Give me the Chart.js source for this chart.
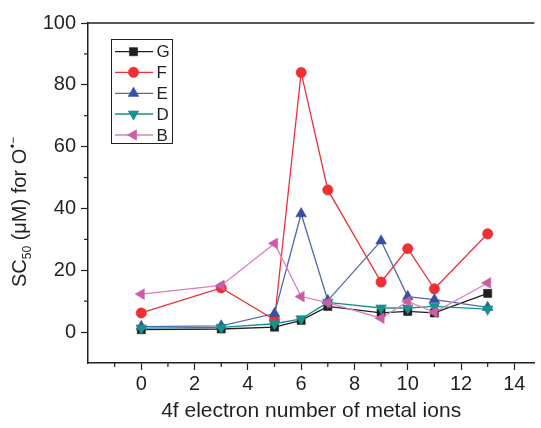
<!DOCTYPE html>
<html>
<head>
<meta charset="utf-8">
<script src="https://cdn.jsdelivr.net/npm/chart.js@4/dist/chart.umd.min.js"></script>
<style>
html,body{margin:0;padding:0;background:#fff;}
#wrap{width:541px;height:428px;}
</style>
</head>
<body>
<div id="wrap"><canvas id="c" width="541" height="428"></canvas></div>
<script>
// ---- data ----
const electrons = [0, 3, 5, 6, 7, 9, 10, 11, 13];
const seriesG = [0.8, 1.0, 1.6, 3.8, 8.3, 6.2, 6.7, 6.2, 12.5];
const seriesF = [6.2, 14.3, 4.0, 84.0, 46.0, 16.2, 27.0, 14.0, 31.8];
const seriesE = [1.8, 2.0, 6.0, 38.3, 10.2, 29.5, 11.5, 10.5, 8.0];
const seriesD = [1.3, 1.5, 2.7, 4.3, 9.6, 7.8, 7.8, 8.3, 7.4];
const seriesB = [12.3, 15.1, 28.7, 11.5, 9.5, 4.5, 9.9, 6.4, 15.9];
const seriesNames = ['G', 'F', 'E', 'D', 'B'];
const xTickValues = [0, 2, 4, 6, 8, 10, 12, 14];
const yTickValues = [0, 20, 40, 60, 80, 100];
const xTitle = '4f electron number of metal ions';

const AXIS = '#231f20';
const FONT = "'Liberation Sans', Arial, Helvetica, sans-serif";

function pts(vals){ return electrons.map((x,i)=>({x:x, y:vals[i]})); }

const styles = [
  {data: seriesG, line:'#231f20', fill:'#231f20', style:'rect', r:5.8, rot:0, order:5},
  {data: seriesF, line:'#ee3035', fill:'#ee3035', style:'circle', r:5.2, rot:0, order:4},
  {data: seriesE, line:'#5367b3', fill:'#3a4f9f', style:'triangle', r:6.2, rot:0, order:3},
  {data: seriesD, line:'#14928c', fill:'#14928c', style:'triangle', r:6.2, rot:180, order:2},
  {data: seriesB, line:'#dc7fbc', fill:'#cc5ca4', style:'triangle', r:6.2, rot:-90, order:1}
];

const datasets = styles.map((s,i)=>({
  label: seriesNames[i],
  data: pts(s.data),
  borderColor: s.line,
  backgroundColor: s.fill,
  borderWidth: 1.3,
  pointStyle: s.style,
  pointRadius: s.r,
  pointRotation: s.rot,
  pointBackgroundColor: s.fill,
  pointBorderColor: s.fill,
  pointBorderWidth: 0.5,
  order: s.order,
  tension: 0
}));

function drawMarker(ctx, style, r, rot, x, y, fill){
  ctx.save();
  ctx.fillStyle = fill; ctx.strokeStyle = fill; ctx.lineWidth = 0.5;
  if (Chart.helpers && Chart.helpers.drawPoint) {
    Chart.helpers.drawPoint(ctx, {pointStyle: style, radius: r, rotation: rot, borderWidth: 0.5}, x, y);
  } else {
    ctx.beginPath(); ctx.arc(x,y,r,0,Math.PI*2); ctx.fill();
  }
  ctx.restore();
}

const decor = {
  id: 'decor',
  afterDraw(chart){
    const ctx = chart.ctx;
    const ca = chart.chartArea;
    const xs = chart.scales.x, ys = chart.scales.y;
    ctx.save();
    ctx.strokeStyle = AXIS; ctx.lineWidth = 1.5;
    // top border
    ctx.beginPath(); ctx.moveTo(ca.left, ca.top); ctx.lineTo(ca.right, ca.top); ctx.stroke();
    // minor ticks
    ctx.lineWidth = 1.2;
    for (let v = -1; v <= 14; v += 2) {
      const px = xs.getPixelForValue(v);
      ctx.beginPath(); ctx.moveTo(px, ca.bottom); ctx.lineTo(px, ca.bottom + 4); ctx.stroke();
    }
    for (let v = 10; v <= 90; v += 20) {
      const py = ys.getPixelForValue(v);
      ctx.beginPath(); ctx.moveTo(ca.left, py); ctx.lineTo(ca.left - 4, py); ctx.stroke();
    }
    // y title (with subscript / superscript)
    ctx.translate(26, 287);
    ctx.rotate(-Math.PI/2);
    ctx.fillStyle = AXIS;
    ctx.textBaseline = 'alphabetic';
    ctx.textAlign = 'left';
    let cx = 0;
    const big = "20px " + FONT, small = "12px " + FONT;
    ctx.font = big; ctx.fillText('SC', cx, 0); cx += ctx.measureText('SC').width;
    ctx.font = small; ctx.fillText('50', cx, 5); cx += ctx.measureText('50').width;
    ctx.font = big; ctx.fillText(' (\u03BCM) for O', cx, 0); cx += ctx.measureText(' (\u03BCM) for O').width;
    ctx.font = small; ctx.fillText('\u2022\u2212', cx + 0.5, -9);
    ctx.restore();

    // legend
    ctx.save();
    ctx.strokeStyle = AXIS; ctx.lineWidth = 1;
    ctx.strokeRect(111.5, 39.5, 61, 104);
    const rowY = [51.7, 72.3, 93.3, 114, 135];
    chart.data.datasets.forEach((ds, i) => {
      const y = rowY[i];
      ctx.strokeStyle = ds.borderColor; ctx.lineWidth = 1.3;
      ctx.beginPath(); ctx.moveTo(115, y); ctx.lineTo(153, y); ctx.stroke();
      drawMarker(ctx, ds.pointStyle, ds.pointRadius, ds.pointRotation, 133.5, y, ds.pointBackgroundColor);
      ctx.fillStyle = AXIS;
      ctx.font = "17px " + FONT;
      ctx.textBaseline = 'middle'; ctx.textAlign = 'left';
      ctx.fillText(ds.label, 156.5, y + 1);
    });
    ctx.restore();
  }
};

new Chart(document.getElementById('c'), {
  type: 'line',
  data: { datasets: datasets },
  plugins: [decor],
  options: {
    responsive: false,
    animation: false,
    devicePixelRatio: 1,
    layout: { padding: { top: 23, right: 0, left: 0, bottom: 0 } },
    plugins: { legend: { display: false }, tooltip: { enabled: false } },
    scales: {
      x: {
        type: 'linear',
        min: -2, max: 14.75,
        afterFit(scale){ scale.height = 65; },
        afterBuildTicks(scale){ scale.ticks = xTickValues.map(v=>({value:v})); },
        ticks: { color: AXIS, font: { size: 20, family: FONT }, padding: 2, maxRotation: 0, autoSkip: false },
        grid: { display: true, drawOnChartArea: false, drawTicks: true, tickLength: 7, color: AXIS, tickWidth: 1.2 },
        border: { display: true, color: AXIS, width: 1.5 },
        title: { display: true, text: xTitle, color: AXIS, font: { size: 21, family: FONT }, padding: { top: 4, bottom: 4 } }
      },
      y: {
        type: 'linear',
        min: -10, max: 100,
        afterFit(scale){ scale.width = 88; },
        afterBuildTicks(scale){ scale.ticks = yTickValues.map(v=>({value:v})); },
        ticks: { color: AXIS, font: { size: 20, family: FONT }, padding: 5, autoSkip: false },
        grid: { display: true, drawOnChartArea: false, drawTicks: true, tickLength: 7, color: AXIS, tickWidth: 1.2 },
        border: { display: true, color: AXIS, width: 1.5 }
      }
    }
  }
});
</script>
</body>
</html>
